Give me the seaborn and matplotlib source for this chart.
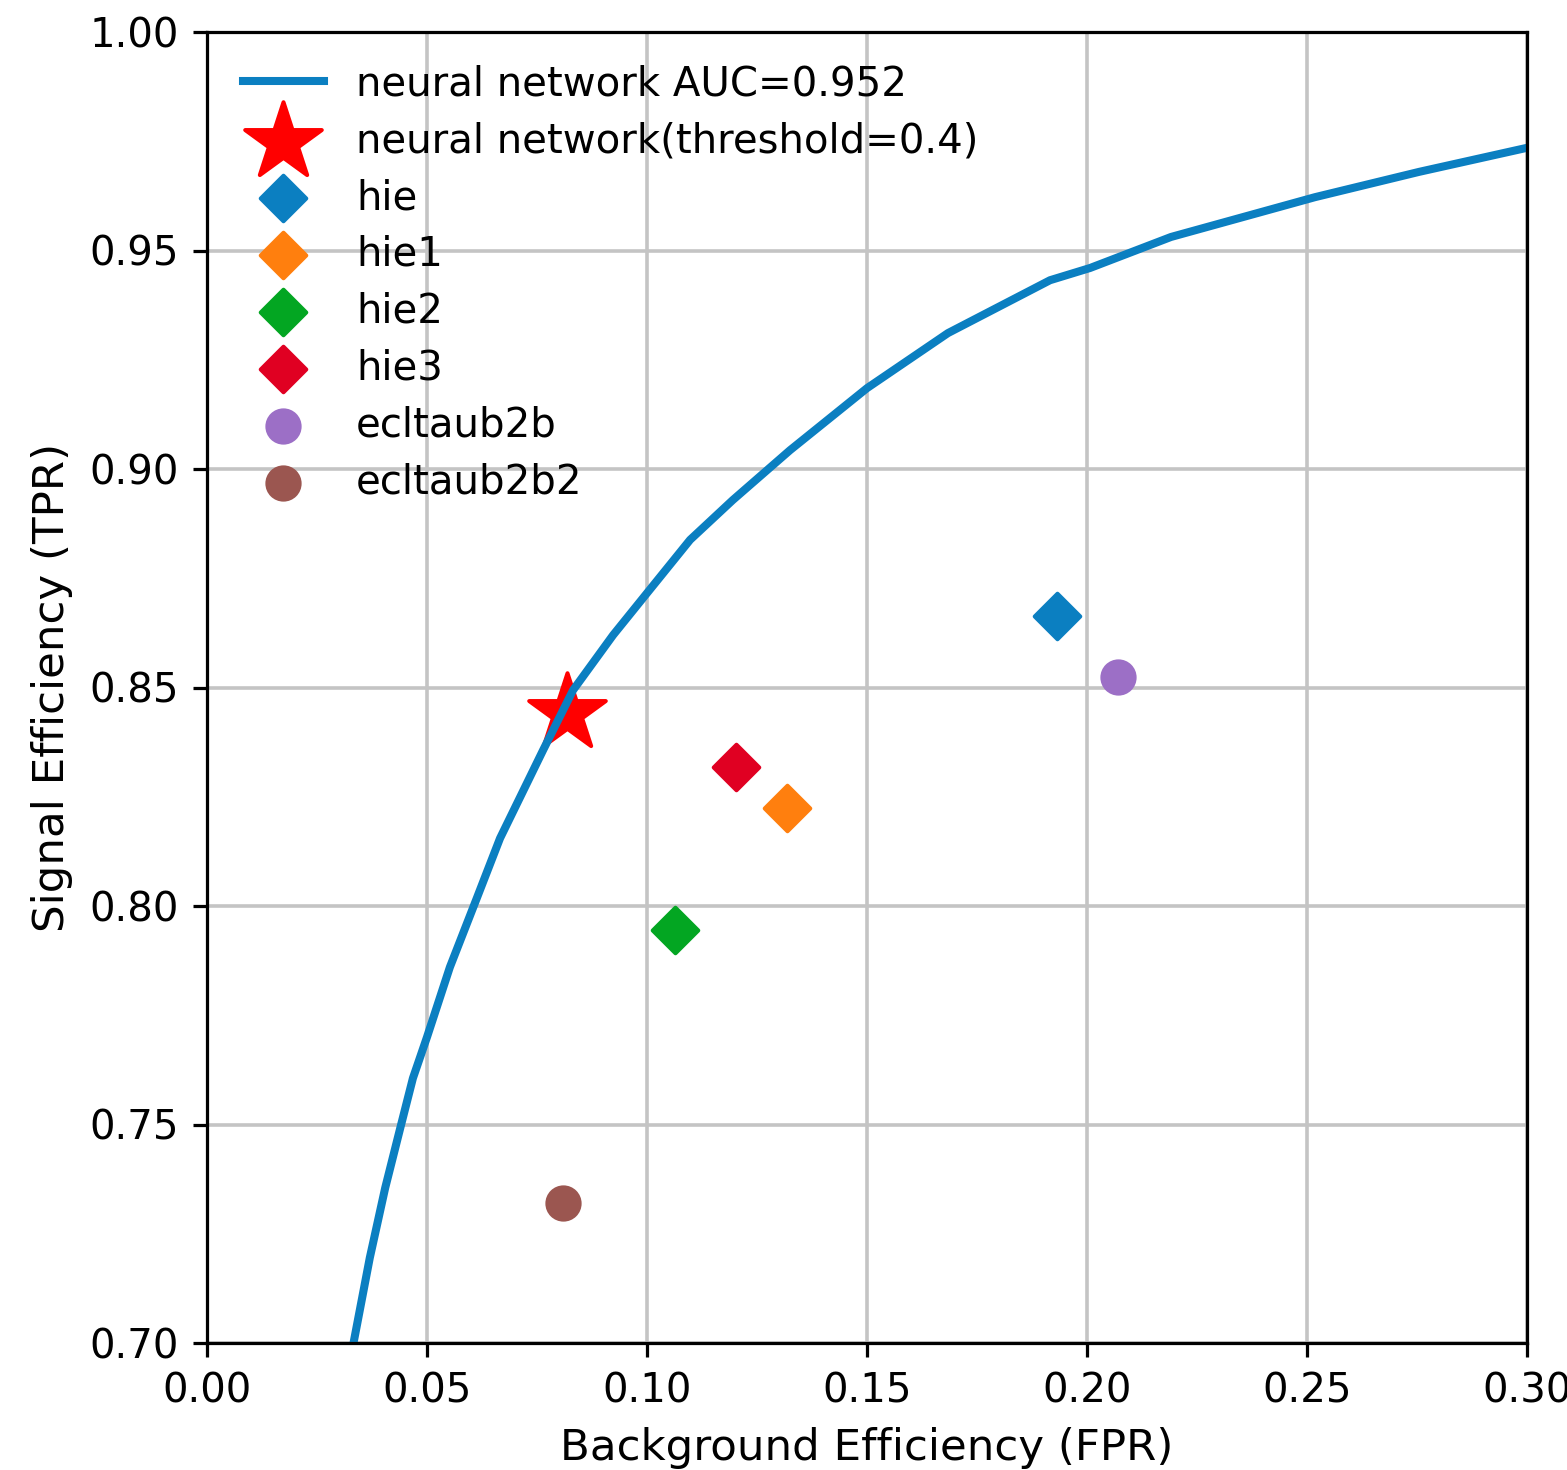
import matplotlib
matplotlib.use("Agg")
import matplotlib.pyplot as plt
import seaborn as sns

# ROC curve of the neural network
fpr = [0.0333, 0.0370, 0.0405, 0.0441, 0.0468, 0.0500, 0.0552, 0.0614,
       0.0666, 0.0764, 0.0832, 0.0923, 0.1000, 0.1098, 0.1195, 0.1325,
       0.1500, 0.1684, 0.1916, 0.2007, 0.2191, 0.2518, 0.2755, 0.3000]
tpr = [0.7000, 0.7195, 0.7355, 0.7499, 0.7606, 0.7700, 0.7860, 0.8020,
       0.8155, 0.8357, 0.8494, 0.8620, 0.8716, 0.8838, 0.8929, 0.9043,
       0.9185, 0.9311, 0.9432, 0.9460, 0.9531, 0.9622, 0.9680, 0.9735]
curve_label = "neural network AUC=0.952"

# working point of the network
star_label = "neural network(threshold=0.4)"
star_fpr = [0.0818]
star_tpr = [0.8442]

# other taggers
point_labels = ["hie", "hie1", "hie2", "hie3", "ecltaub2b", "ecltaub2b2"]
point_fpr = [0.1932, 0.1318, 0.1064, 0.1202, 0.2071, 0.0809]
point_tpr = [0.8664, 0.8224, 0.7945, 0.8318, 0.8524, 0.7320]
point_markers = ["D", "D", "D", "D", "o", "o"]
point_colors = ["#0b7fc1", "#ff7f0e", "#03a622", "#e00022", "#9c6fc6", "#9b5650"]

x_ticks = [0.00, 0.05, 0.10, 0.15, 0.20, 0.25, 0.30]
y_ticks = [0.70, 0.75, 0.80, 0.85, 0.90, 0.95, 1.00]

DPI = 290
W, H = 1567, 1470
fig = plt.figure(figsize=(W / DPI, H / DPI), dpi=DPI)
ax = fig.add_axes([207 / W, 1 - 1343 / H, 1320 / W, 1311 / H])

sns.lineplot(x=fpr, y=tpr, ax=ax, sort=False, estimator=None,
             color="#0b7fc1", linewidth=2, label=curve_label)

sns.scatterplot(x=star_fpr, y=star_tpr, ax=ax, marker="*", s=20 ** 2,
                color="#ff0000", edgecolor="#ff0000", linewidth=1,
                label=star_label)

for lab, xv, yv, mk, col in zip(point_labels, point_fpr, point_tpr,
                                point_markers, point_colors):
    sns.scatterplot(x=[xv], y=[yv], ax=ax, marker=mk, s=8 ** 2,
                    color=col, edgecolor=col, linewidth=1, label=lab)

ax.set_xlim(0.0, 0.30)
ax.set_ylim(0.70, 1.00)
ax.set_xticks(x_ticks)
ax.set_yticks(y_ticks)
ax.grid(True, color="#c4c4c4", linewidth=0.9)
ax.set_axisbelow(True)
for sp in ax.spines.values():
    sp.set_linewidth(0.8)
    sp.set_color("black")
ax.tick_params(direction="out", length=3.5, width=0.8, labelsize=10,
               colors="black")

ax.set_xlabel("Background Efficiency (FPR)", fontsize=10.8)
ax.set_ylabel("Signal Efficiency (TPR)", fontsize=10.8)

ax.legend(loc="upper left", bbox_to_anchor=(0.003, 1.0), frameon=False,
          fontsize=10, labelspacing=0.42, borderaxespad=0.4, scatterpoints=1)

fig.savefig("out.png", dpi=DPI)
